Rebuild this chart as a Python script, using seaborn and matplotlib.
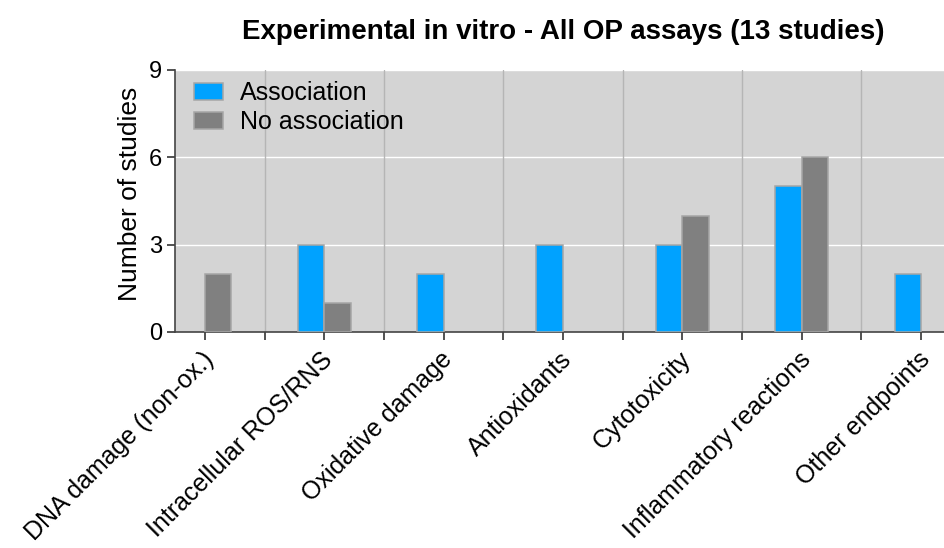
import pandas as pd
import matplotlib.pyplot as plt
import matplotlib.transforms as mtransforms
import seaborn as sns
from matplotlib.patches import Patch
from matplotlib.ticker import FixedLocator

# Chart data
categories = [
    "DNA damage (non-ox.)",
    "Intracellular ROS/RNS",
    "Oxidative damage",
    "Antioxidants",
    "Cytotoxicity",
    "Inflammatory reactions",
    "Other endpoints",
]
association = [0, 3, 2, 3, 3, 5, 2]
no_association = [2, 1, 0, 0, 4, 6, 0]
series_names = ["Association", "No association"]
y_ticks = [0, 3, 6, 9]

colors = {"Association": "#00A2FF", "No association": "#808080"}
edge = "#A6A6A6"

df = pd.DataFrame({
    "category": categories * 2,
    "value": association + no_association,
    "series": [series_names[0]] * len(categories) + [series_names[1]] * len(categories),
})

sns.set_theme(style="white")
plt.rcParams["font.family"] = ["Liberation Sans", "DejaVu Sans"]
plt.rcParams["text.color"] = "black"
plt.rcParams["axes.labelcolor"] = "black"
plt.rcParams["xtick.color"] = "black"
plt.rcParams["ytick.color"] = "black"

fig = plt.figure(figsize=(9.45, 5.48), dpi=100)
ax = fig.add_axes([175 / 945, 1 - 332 / 548, 1 - 175 / 945, (332 - 70) / 548])
ax.set_facecolor("#D4D4D4")

sns.barplot(
    data=df, x="category", y="value", hue="series", palette=colors,
    saturation=1, width=0.445, edgecolor=edge, linewidth=1.1, ax=ax, zorder=3,
    legend=False,
)

# empty bars: no outline on the axis
for p in ax.patches:
    if p.get_height() == 0:
        p.set_linewidth(0)

# grid: white horizontal lines, gray vertical lines at category borders
for y in y_ticks[1:]:
    ax.axhline(y, color="white", lw=1, zorder=1)
n = len(categories)
for b in range(n):
    ax.axvline(b + 0.5, color="#B5B5B5", lw=1, zorder=1)

ax.set_ylim(0, 9)
ax.set_xlim(-0.25, 6.2)
ax.set_yticks(y_ticks)
ax.set_xticks(range(n))
ax.xaxis.set_minor_locator(FixedLocator([i + 0.5 for i in range(n)]))
ax.set_xticklabels(categories, rotation=45, ha="right", va="center",
                   rotation_mode="anchor", fontsize=18)
ax.tick_params(axis="y", labelsize=17, length=6, width=1.2, color="#333333", direction="out", left=True, pad=3)
ax.tick_params(axis="x", which="both", length=6, width=1.2, color="#333333", direction="out", bottom=True, pad=9)

# nudge the rotated labels a little right/down
shift = mtransforms.ScaledTranslation(0.05, -0.03, fig.dpi_scale_trans)
for lbl in ax.get_xticklabels():
    lbl.set_transform(lbl.get_transform() + shift)

for s in ["top", "right"]:
    ax.spines[s].set_visible(False)
for s in ["left", "bottom"]:
    ax.spines[s].set_color("#444444")
    ax.spines[s].set_linewidth(1.2)

ax.set_xlabel("")
ax.set_ylabel("Number of studies", fontsize=19)
ax.yaxis.set_label_coords(-0.043, 0.527)

handles = [Patch(facecolor=colors[s], edgecolor=edge, linewidth=1.1) for s in series_names]
ax.legend(handles, series_names, frameon=False, fontsize=18, loc="upper left",
          bbox_to_anchor=(0.0104, 1.0), handlelength=1.16, handleheight=0.68,
          handletextpad=0.68, labelspacing=0.2, borderaxespad=0.0,
          borderpad=0.45)

fig.text(563 / 945, 1 - 32 / 548, "Experimental in vitro - All OP assays (13 studies)",
         ha="center", va="center", fontsize=20, fontweight="bold")

fig.savefig("out.png", dpi=100)
